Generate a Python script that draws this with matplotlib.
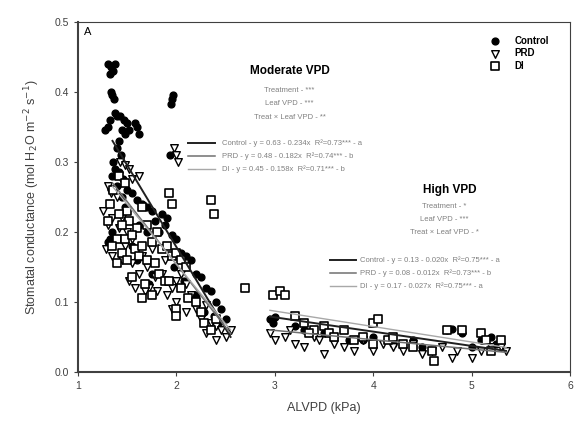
import matplotlib
matplotlib.use("Agg")
import matplotlib.pyplot as plt

plt.rcParams['font.family'] = ['Liberation Sans', 'DejaVu Sans']

# Control (filled circles)
ctrl_x = [1.30, 1.33, 1.36, 1.38, 1.32, 1.33, 1.35, 1.37, 1.95, 1.97, 1.94, 1.93,
          1.38, 1.40, 1.32, 1.30, 1.27, 1.43, 1.47, 1.50, 1.45, 1.52, 1.48, 1.58, 1.60,
          1.62, 1.42, 1.40, 1.44, 1.36, 1.38, 1.42, 1.34, 1.46, 1.40, 1.50, 1.55, 1.45,
          1.60, 1.65, 1.70, 1.48, 1.75, 1.85, 1.78, 1.90, 1.88, 1.82, 1.95, 2.00, 1.70,
          1.62, 1.35, 1.32, 1.30, 2.05, 2.10, 2.15, 1.98, 2.20, 2.25, 2.08, 2.30, 2.35,
          2.20, 2.40, 2.45, 2.38, 2.50, 2.42, 2.28, 1.75, 1.72, 1.90, 1.60, 1.55,
          2.95, 2.98, 3.00, 3.30, 3.50, 3.60, 3.90, 4.00, 4.20, 4.40, 4.50, 4.75, 4.80,
          4.90, 5.10, 5.20, 5.25, 5.00, 3.20, 3.75]
ctrl_y = [0.440, 0.435, 0.430, 0.440, 0.425, 0.400, 0.395, 0.390, 0.390, 0.395, 0.383, 0.310,
          0.370, 0.365, 0.360, 0.350, 0.345, 0.365, 0.360, 0.355, 0.345, 0.345, 0.340, 0.355, 0.350,
          0.340, 0.330, 0.320, 0.310, 0.300, 0.290, 0.285, 0.280, 0.275, 0.265, 0.260, 0.255, 0.250,
          0.245, 0.240, 0.235, 0.235, 0.230, 0.225, 0.215, 0.220, 0.210, 0.200, 0.195, 0.190, 0.200,
          0.210, 0.200, 0.190, 0.185, 0.170, 0.165, 0.160, 0.150, 0.140, 0.135, 0.130, 0.120, 0.115,
          0.110, 0.100, 0.090, 0.080, 0.075, 0.070, 0.085, 0.140, 0.125, 0.130, 0.160, 0.180,
          0.075, 0.070, 0.078, 0.060, 0.055, 0.050, 0.045, 0.050, 0.040, 0.045, 0.035, 0.060, 0.062,
          0.055, 0.045, 0.050, 0.040, 0.035, 0.065, 0.045]

# PRD (open down triangles)
prd_x = [1.98, 2.00, 2.02, 1.43, 1.48, 1.62, 1.55, 1.52, 1.30, 1.33, 1.40, 1.35, 1.30,
         1.45, 1.42, 1.50, 1.38, 1.55, 1.48, 1.60, 1.35, 1.45, 1.55, 1.65, 1.70, 1.62,
         1.78, 1.85, 1.72, 1.68, 1.80, 1.90, 1.95, 2.00, 2.05, 2.10, 2.15, 2.00, 1.95,
         2.10, 2.20, 2.25, 2.30, 2.35, 2.40, 2.45, 2.50, 2.55, 2.40, 2.30, 1.25, 1.28,
         1.52, 1.58, 1.88, 1.75,
         2.95, 3.00, 3.10, 3.20, 3.30, 3.40, 3.45, 3.60, 3.70, 3.80, 3.90, 4.00, 4.10,
         4.20, 4.30, 4.40, 4.50, 4.60, 4.70, 4.85, 5.00, 5.10, 5.20, 5.30, 5.35, 3.50,
         4.80, 3.15]
prd_y = [0.320, 0.310, 0.300, 0.300, 0.295, 0.280, 0.275, 0.290, 0.265, 0.255, 0.250, 0.220, 0.210,
         0.220, 0.205, 0.200, 0.190, 0.190, 0.180, 0.175, 0.165, 0.160, 0.155, 0.165, 0.150, 0.140,
         0.135, 0.140, 0.120, 0.115, 0.115, 0.110, 0.120, 0.130, 0.140, 0.125, 0.110, 0.100, 0.090,
         0.085, 0.090, 0.075, 0.095, 0.070, 0.065, 0.060, 0.050, 0.060, 0.045, 0.055, 0.230, 0.175,
         0.130, 0.120, 0.160, 0.175,
         0.055, 0.045, 0.050, 0.040, 0.035, 0.050, 0.045, 0.040, 0.035, 0.030, 0.045, 0.030, 0.040,
         0.035, 0.030, 0.040, 0.025, 0.030, 0.035, 0.030, 0.020, 0.030, 0.035, 0.035, 0.030, 0.025,
         0.020, 0.060]

# DI (open squares)
di_x = [2.35, 2.38, 1.92, 1.95, 1.65, 1.50, 1.42, 1.52, 1.45, 1.60, 1.70, 1.80, 1.40,
        1.48, 1.55, 1.35, 1.45, 1.58, 1.62, 1.50, 1.40, 1.65, 1.75, 1.85, 1.90, 1.70,
        1.78, 1.95, 2.00, 2.05, 2.10, 1.82, 1.88, 1.92, 2.05, 2.12, 2.20, 1.75, 1.65,
        2.00, 2.00, 2.28, 2.35, 2.40, 2.25, 2.70, 1.30, 1.32, 1.55, 1.68, 1.36, 1.42, 1.48,
        2.98, 3.05, 3.10, 3.20, 3.30, 3.40, 3.50, 3.55, 3.60, 3.70, 3.80, 3.90, 4.00,
        4.05, 4.15, 4.20, 4.30, 4.40, 4.60, 4.62, 4.75, 4.90, 5.10, 5.15, 5.30, 5.20,
        4.00, 3.35]
di_y = [0.245, 0.225, 0.255, 0.240, 0.235, 0.230, 0.225, 0.215, 0.210, 0.205, 0.210, 0.200, 0.190,
        0.190, 0.195, 0.180, 0.170, 0.175, 0.165, 0.160, 0.155, 0.180, 0.185, 0.175, 0.180, 0.160,
        0.155, 0.165, 0.170, 0.160, 0.150, 0.140, 0.130, 0.130, 0.120, 0.105, 0.100, 0.110, 0.105,
        0.090, 0.080, 0.070, 0.060, 0.075, 0.085, 0.120, 0.215, 0.240, 0.135, 0.125, 0.260, 0.280, 0.270,
        0.110, 0.115, 0.110, 0.080, 0.070, 0.060, 0.065, 0.055, 0.050, 0.060, 0.045, 0.050, 0.070,
        0.075, 0.045, 0.050, 0.040, 0.035, 0.030, 0.015, 0.060, 0.060, 0.055, 0.045, 0.045, 0.030,
        0.040, 0.055]

# regression line end points (moderate, high)
reg_x_mod = [1.35, 2.55]
reg_ctrl_mod = [0.330, 0.050]
reg_prd_mod = [0.270, 0.055]
reg_di_mod = [0.265, 0.060]
reg_x_high = [2.95, 5.35]
reg_ctrl_high = [0.079, 0.030]
reg_prd_high = [0.060, 0.028]
reg_di_high = [0.088, 0.035]

mod_stats = ["Treatment - ***", "Leaf VPD - ***", "Treat \u00d7 Leaf VPD - **"]
high_stats = ["Treatment - *", "Leaf VPD - ***", "Treat \u00d7 Leaf VPD - *"]
mod_eqs = ["Control - y = 0.63 - 0.234x  R\u00b2=0.73*** - a",
           "PRD - y = 0.48 - 0.182x  R\u00b2=0.74*** - b",
           "DI - y = 0.45 - 0.158x  R\u00b2=0.71*** - b"]
high_eqs = ["Control - y = 0.13 - 0.020x  R\u00b2=0.75*** - a",
            "PRD - y = 0.08 - 0.012x  R\u00b2=0.73*** - b",
            "DI - y = 0.17 - 0.027x  R\u00b2=0.75*** - a"]
line_styles = [("#202020", 1.4), ("#707070", 1.1), ("#a8a8a8", 1.0)]

fig = plt.figure(figsize=(5.74, 4.28), dpi=100)
ax = fig.add_axes([0.136, 0.131, 0.857, 0.818])

ax.scatter(ctrl_x, ctrl_y, marker="o", s=24, c="black", edgecolors="black", label="Control", zorder=3)
ax.scatter(prd_x, prd_y, marker="v", s=30, facecolors="white", edgecolors="black", linewidths=1.0,
           label="PRD", zorder=3)
ax.scatter(di_x, di_y, marker="s", s=38, facecolors="white", edgecolors="black", linewidths=1.2,
           label="DI", zorder=3)

for ys, (c, lw) in zip([reg_ctrl_mod, reg_prd_mod, reg_di_mod], line_styles):
    ax.plot(reg_x_mod, ys, color=c, lw=lw, zorder=4)
for ys, (c, lw) in zip([reg_ctrl_high, reg_prd_high, reg_di_high], line_styles):
    ax.plot(reg_x_high, ys, color=c, lw=lw, zorder=4)

# annotations
ax.text(1.1, 0.485, "A", fontsize=8, ha="center", va="center")
ax.text(3.15, 0.43, "Moderate VPD", fontsize=8.5, fontweight="bold", ha="center", va="center")
for i, s in enumerate(mod_stats):
    ax.text(3.15, 0.402 - i * 0.019, s, fontsize=5.5, color="#808080", ha="center", va="center")
for i, (s, (c, lw)) in enumerate(zip(mod_eqs, line_styles)):
    yy = 0.327 - i * 0.0185
    ax.plot([2.12, 2.39], [yy, yy], color=c, lw=lw)
    ax.text(2.46, yy, s, fontsize=5.5, color="#808080", va="center")

ax.text(4.78, 0.26, "High VPD", fontsize=8.5, fontweight="bold", ha="center", va="center")
for i, s in enumerate(high_stats):
    ax.text(4.72, 0.236 - i * 0.0185, s, fontsize=5.5, color="#808080", ha="center", va="center")
for i, (s, (c, lw)) in enumerate(zip(high_eqs, line_styles)):
    yy = 0.16 - i * 0.0185
    ax.plot([3.56, 3.82], [yy, yy], color=c, lw=lw)
    ax.text(3.87, yy, s, fontsize=5.5, color="#808080", va="center")

ax.legend(loc="upper right", bbox_to_anchor=(0.975, 0.985), frameon=False, handletextpad=1.0,
          labelspacing=0.25, prop={"weight": "bold", "size": 7})

ax.set_xlim(1, 6)
ax.set_ylim(0, 0.5)
ax.set_xticks([1, 2, 3, 4, 5, 6])
ax.set_yticks([0.0, 0.1, 0.2, 0.3, 0.4, 0.5])
ax.set_yticklabels(["0.0", "0.1", "0.2", "0.3", "0.4", "0.5"])
ax.tick_params(labelsize=7.5, direction="out", length=3, color="#404040", labelcolor="#404040")
for sp in ax.spines.values():
    sp.set_color("#404040")
ax.spines["bottom"].set_linewidth(1.5)
ax.spines["left"].set_linewidth(1.5)
ax.set_xlabel("ALVPD (kPa)", fontsize=9, color="#404040", labelpad=8)
ax.set_ylabel("Stomatal conductance (mol H$_2$O m$^{-2}$ s$^{-1}$)", fontsize=9, color="#404040",
              labelpad=9)

fig.savefig("out.png", dpi=100)
